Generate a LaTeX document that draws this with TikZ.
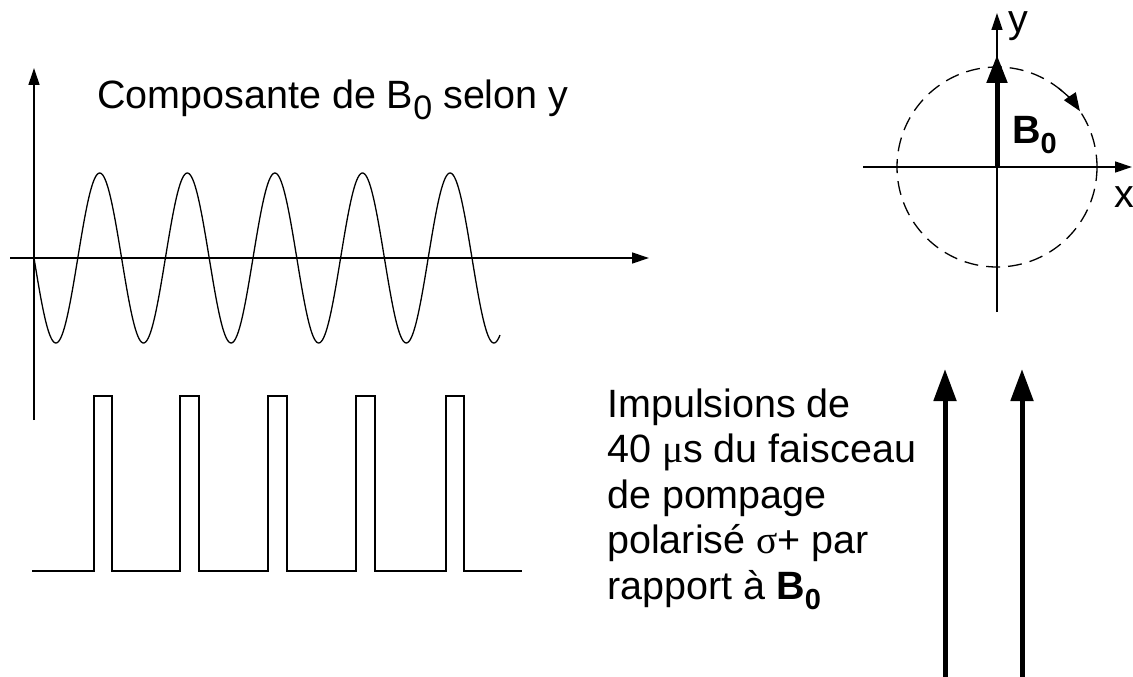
\documentclass[tikz,border=0pt]{standalone}
\usepackage{fontspec}
\setmainfont{Liberation Sans}
\newfontfamily\symfont{Liberation Serif}
\usetikzlibrary{arrows.meta}
\newcommand{\lowzero}[1]{\raisebox{-0.26em}{\fontsize{#1}{#1}\selectfont 0}}
\begin{document}
\begin{tikzpicture}[x=1pt,y=-1pt,
  thin line/.style={line width=1.3pt},
  axis arrow/.style={thin line,-{Triangle[length=17pt,width=11pt]}},
  thick arrow/.style={line width=5pt,-{Triangle[length=32pt,width=22pt]}},
  txt/.style={font=\fontsize{39.5}{46}\selectfont,inner sep=0pt,anchor=base west}]
\useasboundingbox[fill=white] (0,0) rectangle (1133,677);

% left graph axes
\coordinate (ybot) at (34,420);
\coordinate (ytop) at (34,68);
\coordinate (xleft) at (10,258);
\coordinate (xright) at (649,258);
\draw[axis arrow] (ybot) -- (ytop);
\draw[axis arrow] (xleft) -- (xright);

% sine
\draw[thin line] plot[domain=34:500,samples=400,smooth] (\x,{258+85*sin((\x-34)/87.6*360)});

% title
\node[txt] (title) at (97,109) {Composante de B\lowzero{34}\ selon y};

% pulses
\draw[thin line] (32,571) -- (94,571) -- (94,396) -- (112,396) -- (112,571)
  -- (180,571) -- (180,396) -- (199,396) -- (199,571)
  -- (268,571) -- (268,396) -- (287,396) -- (287,571)
  -- (356,571) -- (356,396) -- (375,396) -- (375,571)
  -- (446,571) -- (446,396) -- (464,396) -- (464,571) -- (522,571);

% right diagram
\coordinate (O) at (997,167);
\coordinate (hx0) at (863,167);
\coordinate (hx1) at (1132,167);
\coordinate (vy0) at (997,312);
\coordinate (vy1) at (997,13);
\draw[axis arrow] (hx0) -- (hx1);
\draw[axis arrow] (vy0) -- (vy1);
\draw[thin line,dash pattern=on 14pt off 8pt] (O) circle (100);
\draw[thin line,-{Triangle[length=18pt,width=14pt]}] ([shift={(O)}]-52:100) arc (-52:-34:100);
\coordinate (Btip) at (997,55);
\draw[line width=5pt,-{Triangle[length=28pt,width=20pt]}] (O) -- (Btip);
\node[txt] (Blab) at (1012,143) {\bfseries B\lowzero{29}};
\node[txt,anchor=base] (ylab) at (1018,33) {y};
\node[txt,anchor=base] (xlab) at (1124,207) {x};

% text block
\node[txt] (l1) at (607,417) {Impulsions de};
\node[txt] (l2) at (607,462.5) {40 {\symfont μ}s du faisceau};
\node[txt] (l3) at (607,508) {de pompage};
\node[txt] (l4) at (607,553.5) {polarisé {\symfont σ}+ par};
\node[txt] (l5) at (607,599) {rapport à {\bfseries B\lowzero{29}}};

% pump beam arrows
\coordinate (a1) at (945,677);
\coordinate (a1t) at (945,369);
\coordinate (a2) at (1022,677);
\coordinate (a2t) at (1022,369);
\draw[thick arrow] (a1) -- (a1t);
\draw[thick arrow] (a2) -- (a2t);
\end{tikzpicture}
\end{document}
